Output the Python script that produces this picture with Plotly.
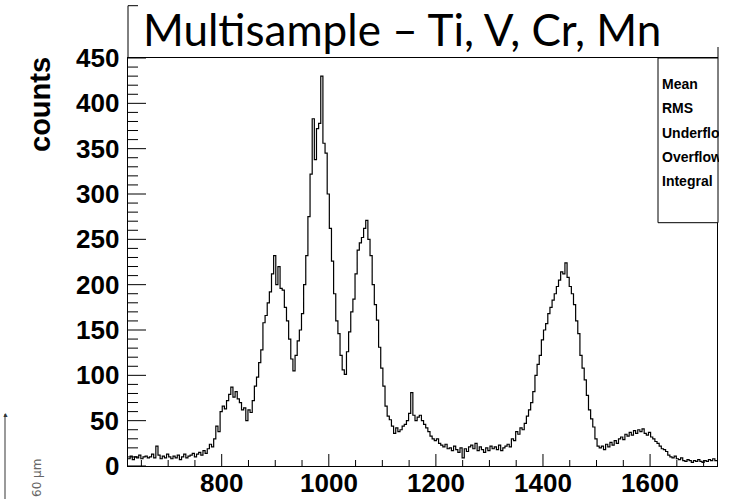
import plotly.graph_objects as go

# Histogram binning (channel axis)
bin_start = 625
bin_width = 4

# counts per bin, 275 bins from 625 to 1725
counts = [
    8, 11, 7, 10, 9, 12, 8, 10, 11, 9,          # 625-665
    10, 13, 9, 22, 12, 8, 11, 9, 13, 10,        # 665-705
    8, 11, 9, 12, 7, 10, 13, 9, 11, 12,         # 705-745
    14, 10, 13, 15, 12, 17, 14, 19, 24, 21,     # 745-785
    30, 44, 38, 60, 66, 63, 72, 79, 87, 76,     # 785-825
    82, 74, 70, 62, 64, 50, 62, 59, 72, 88,     # 825-865
    98, 114, 128, 158, 166, 180, 192, 212, 232, 200,   # 865-905
    220, 196, 194, 175, 160, 140, 118, 105, 122, 138,  # 905-945
    150, 168, 200, 232, 275, 322, 383, 338, 372, 378,  # 945-985
    430, 356, 345, 300, 262, 226, 190, 160, 146, 122,  # 985-1025
    106, 101, 126, 148, 170, 184, 212, 238, 246, 252,  # 1025-1065
    262, 271, 250, 232, 200, 178, 161, 131, 108, 88,   # 1065-1105
    66, 55, 51, 44, 36, 42, 38, 40, 44, 46,     # 1105-1145
    50, 58, 81, 56, 50, 54, 56, 50, 46, 42,     # 1145-1185
    38, 33, 30, 28, 30, 25, 23, 21, 24, 19,     # 1185-1225
    20, 17, 22, 18, 15, 20, 9, 19, 16, 21,      # 1225-1265
    23, 19, 25, 17, 21, 18, 15, 20, 17, 22,     # 1265-1305
    19, 21, 18, 23, 17, 20, 22, 24, 21, 30,     # 1305-1345
    28, 38, 35, 42, 40, 47, 55, 62, 70, 82,     # 1345-1385
    100, 112, 122, 139, 150, 157, 168, 175, 183, 190,  # 1385-1425
    198, 205, 214, 212, 224, 208, 198, 190, 178, 160,  # 1425-1465
    146, 122, 108, 95, 78, 62, 52, 43, 30, 22,  # 1465-1505
    20, 22, 18, 24, 21, 26, 23, 28, 25, 30,     # 1505-1545
    32, 29, 35, 33, 37, 34, 39, 36, 40, 38,     # 1545-1585
    41, 36, 34, 37, 32, 30, 27, 25, 22, 19,     # 1585-1625
    18, 16, 12, 10, 9, 11, 8, 7, 9, 6,          # 1625-1665
    5, 7, 6, 4, 6, 5, 7, 5, 4, 6,               # 1665-1705
    5, 7, 6, 8, 6,                              # 1705-1725
]

x_range = [625, 1725]
y_range = [0, 450]
x_ticks = [800, 1000, 1200, 1400, 1600]
y_ticks = [0, 50, 100, 150, 200, 250, 300, 350, 400, 450]
x_minor_step = 50
y_minor_step = 10

title_text = "Multisample – Ti, V, Cr, Mn"
y_label = "counts"
stats_labels = ["Mean", "RMS", "Underflow", "Overflow", "Integral"]

edges = [bin_start + bin_width * i for i in range(len(counts) + 1)]
yvals = counts + [counts[-1]]

# layout geometry (pixels)
W, H = 748, 499
L, R, T, B = 128, 31, 58, 33
pw = W - L - R
ph = H - T - B


def px(xp):
    return (xp - L) / pw


def py(yp):
    return (H - B - yp) / ph


fig = go.Figure()
fig.add_trace(go.Scatter(
    x=edges, y=yvals, mode="lines", line_shape="hv",
    line=dict(color="black", width=1.2), hoverinfo="skip", showlegend=False,
))

tickfont = dict(family="Liberation Sans, Arial", size=26, color="black", weight="bold")

fig.update_layout(
    width=W, height=H,
    margin=dict(l=L, r=R, t=T, b=B, pad=0),
    paper_bgcolor="white", plot_bgcolor="white",
    xaxis=dict(
        range=x_range, ticks="", showline=True, linecolor="black", linewidth=1, mirror=True,
        showgrid=False, zeroline=False, showticklabels=False, automargin=False,
    ),
    yaxis=dict(
        range=y_range, ticks="", showline=True, linecolor="black", linewidth=1, mirror=True,
        showgrid=False, zeroline=False, showticklabels=False, automargin=False,
    ),
)

shapes = []
# inward tick marks on the bottom axis, placed through the x scale
x_minor = [v for v in range(650, x_range[1] + 1, x_minor_step) if v not in x_ticks]
for v in x_ticks:
    shapes.append(dict(type="line", xref="x", yref="paper", ysizemode="pixel", yanchor=0,
                       x0=v, x1=v, y0=0, y1=12, line=dict(color="black", width=1)))
for v in x_minor:
    shapes.append(dict(type="line", xref="x", yref="paper", ysizemode="pixel", yanchor=0,
                       x0=v, x1=v, y0=0, y1=6, line=dict(color="black", width=1)))
# inward tick marks on the left axis, placed through the y scale
y_minor = [v for v in range(y_range[0], y_range[1] + 1, y_minor_step) if v not in y_ticks]
for v in y_ticks:
    shapes.append(dict(type="line", xref="paper", yref="y", xsizemode="pixel", xanchor=0,
                       x0=0, x1=18, y0=v, y1=v, line=dict(color="black", width=1)))
for v in y_minor:
    shapes.append(dict(type="line", xref="paper", yref="y", xsizemode="pixel", xanchor=0,
                       x0=0, x1=10, y0=v, y1=v, line=dict(color="black", width=1)))
# title box partial border
shapes.append(dict(type="line", xref="paper", yref="paper", x0=0, x1=0, y0=1, y1=py(5.7),
                   line=dict(color="black", width=1)))
shapes.append(dict(type="line", xref="paper", yref="paper", x0=0, x1=px(138), y0=py(5.7), y1=py(5.7),
                   line=dict(color="black", width=1)))
shapes.append(dict(type="line", xref="paper", yref="paper", x0=px(718), x1=px(718), y0=1, y1=py(47),
                   line=dict(color="black", width=1)))
# stats box
shapes.append(dict(type="rect", xref="paper", yref="paper", x0=px(658), x1=px(718), y0=py(222.7), y1=1,
                   line=dict(color="black", width=1), fillcolor="white", layer="above"))
# scale arrow at bottom-left
shapes.append(dict(type="line", xref="paper", yref="paper", x0=px(5), x1=px(5), y0=py(414), y1=py(499),
                   line=dict(color="#9a9a9a", width=2)))
fig.update_layout(shapes=shapes)

ann = []
# tick labels placed through the axis scales
for v in y_ticks:
    ann.append(dict(text=str(v), xref="paper", yref="y", x=0, y=v, xanchor="right",
                    yanchor="middle", xshift=-7, showarrow=False, font=tickfont))
for v in x_ticks:
    ann.append(dict(text=str(v), xref="x", yref="paper", x=v, y=0, xanchor="center",
                    yanchor="top", yshift=0, showarrow=False, font=tickfont))
ann.append(dict(text=title_text, xref="paper", yref="paper", x=px(141), y=py(29),
                xanchor="left", yanchor="middle", showarrow=False,
                font=dict(family="Lato, Open Sans, sans-serif", size=44, color="black")))
ann.append(dict(text=y_label, xref="paper", yref="paper", x=px(40), y=py(105), textangle=-90,
                xanchor="center", yanchor="middle", showarrow=False,
                font=dict(family="Liberation Sans, Arial", size=29, color="black", weight="bold")))
for lab, yc in zip(stats_labels, [84, 108, 133, 157, 181]):
    ann.append(dict(text=lab, xref="paper", yref="paper", x=px(661), y=py(yc),
                    xanchor="left", yanchor="middle", showarrow=False, width=57, align="left",
                    borderpad=0,
                    font=dict(family="Liberation Sans, Arial", size=14, color="black", weight="bold")))
ann.append(dict(text="▲", xref="paper", yref="paper", x=px(5), y=py(414), xanchor="center",
                yanchor="middle", showarrow=False, font=dict(size=7, color="#333333")))
ann.append(dict(text="60 µm", xref="paper", yref="paper", x=px(37), y=py(478), textangle=-90,
                xanchor="center", yanchor="middle", showarrow=False,
                font=dict(family="DejaVu Sans", size=12, color="#666666")))
fig.update_layout(annotations=ann)

fig.write_html("out.html")
